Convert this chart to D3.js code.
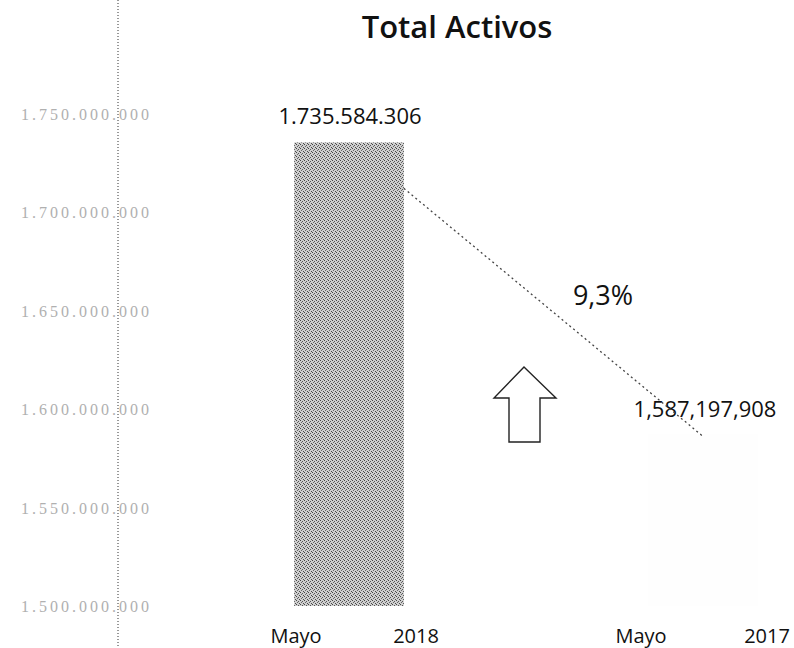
<!DOCTYPE html>
<html><head><meta charset="utf-8">
<script src="https://cdn.jsdelivr.net/npm/d3@7/dist/d3.min.js"></script>
<style>body{margin:0;background:#fff;} svg{display:block;}</style>
</head><body>
<svg id="c" width="794" height="648"></svg>
<script>
const categories = ["Mayo 2018", "Mayo 2017"];
const values = [1735584306, 1587197908];
const valueLabels = ["1.735.584.306", "1,587,197,908"];
const yTicks = [1500000000, 1550000000, 1600000000, 1650000000, 1700000000, 1750000000];
const changeLabel = "9,3%";
const title = "Total Activos";

const svg = d3.select("#c");
const x = d3.scaleBand().domain(categories).range([172, 880]).paddingInner(0.69).paddingOuter(0.345);
const y = d3.scaleLinear().domain([1500000000, 1750000000]).range([606, 114]);

// pattern for stipple
const defs = svg.append("defs");
const pat = defs.append("pattern").attr("id","stip").attr("width",4).attr("height",4).attr("patternUnits","userSpaceOnUse");
pat.append("rect").attr("width",4).attr("height",4).attr("fill","#cfcfcf");
pat.append("rect").attr("x",0).attr("y",0).attr("width",1).attr("height",1).attr("fill","#444");
pat.append("rect").attr("x",2).attr("y",1).attr("width",1).attr("height",1).attr("fill","#555");
pat.append("rect").attr("x",1).attr("y",2).attr("width",1).attr("height",1).attr("fill","#666");
pat.append("rect").attr("x",3).attr("y",3).attr("width",1).attr("height",1).attr("fill","#4a4a4a");

// title
svg.append("text").attr("x",457).attr("y",38).attr("text-anchor","middle")
  .attr("font-family","Open Sans, sans-serif").attr("font-weight",600).attr("font-size",31)
  .attr("fill","#111").text(title);

// y axis (dotted line) and tick labels
svg.append("line").attr("x1",118).attr("x2",118).attr("y1",0).attr("y2",648)
  .attr("stroke","#333").attr("stroke-width",1).attr("stroke-dasharray","1,2");
const fmt = v => d3.format(",")(v).replace(/,/g, ".");
svg.append("g").selectAll("text").data(yTicks).join("text")
  .attr("x",152).attr("y",d=>y(d)+6).attr("text-anchor","end")
  .attr("font-family","Liberation Serif, serif").attr("font-size",16)
  .attr("fill","#b0b0b0").attr("letter-spacing",3).text(fmt);

// bars
svg.append("g").selectAll("rect").data(values).join("rect")
  .attr("x",(d,i)=>x(categories[i])).attr("width",x.bandwidth())
  .attr("y",d=>y(d)).attr("height",d=>y(1500000000)-y(d))
  .attr("fill",(d,i)=> i===0 ? "url(#stip)" : "#fefefe");

// value labels
svg.append("g").selectAll("text").data(values).join("text")
  .attr("x",(d,i)=>x(categories[i])+x.bandwidth()/2 + (i===0?1:2))
  .attr("y",(d,i)=> i===0 ? y(d)-18 : y(d)-17)
  .attr("text-anchor","middle").attr("font-family","Open Sans, sans-serif").attr("font-size",22)
  .attr("fill","#111").text((d,i)=>valueLabels[i]);

// connecting dotted line
const x0 = x(categories[0]) + x.bandwidth(), y0 = y(values[0]) + 46;
const x1 = x(categories[1]) + x.bandwidth()/2, y1 = y(values[1]) + 2;
svg.append("line").attr("x1",x0).attr("y1",y0).attr("x2",x1).attr("y2",y1)
  .attr("stroke","#444").attr("stroke-width",1.3).attr("stroke-dasharray","2,3");

// percent label
svg.append("text").attr("x",603).attr("y",305).attr("text-anchor","middle")
  .attr("font-family","Open Sans, sans-serif").attr("font-size",27).attr("fill","#111").text(changeLabel);

// up arrow
svg.append("path").attr("d","M524,367 L556,398 L540,398 L540,442 L509,442 L509,398 L494,398 Z")
  .attr("fill","#fff").attr("stroke","#222").attr("stroke-width",1.4);

// category labels
const cat = svg.append("g").selectAll("text").data(categories).join("text")
  .attr("y",643).attr("font-family","Open Sans, sans-serif").attr("font-size",20).attr("fill","#111");
cat.append("tspan").attr("x",(d,i)=>x(d)+x.bandwidth()/2 - (i===0?53:62)).attr("text-anchor","middle").text(d=>d.split(" ")[0]);
cat.append("tspan").attr("x",(d,i)=>x(d)+x.bandwidth()/2 + (i===0?67:64)).attr("text-anchor","middle").text(d=>d.split(" ")[1]);
</script>
</body></html>
